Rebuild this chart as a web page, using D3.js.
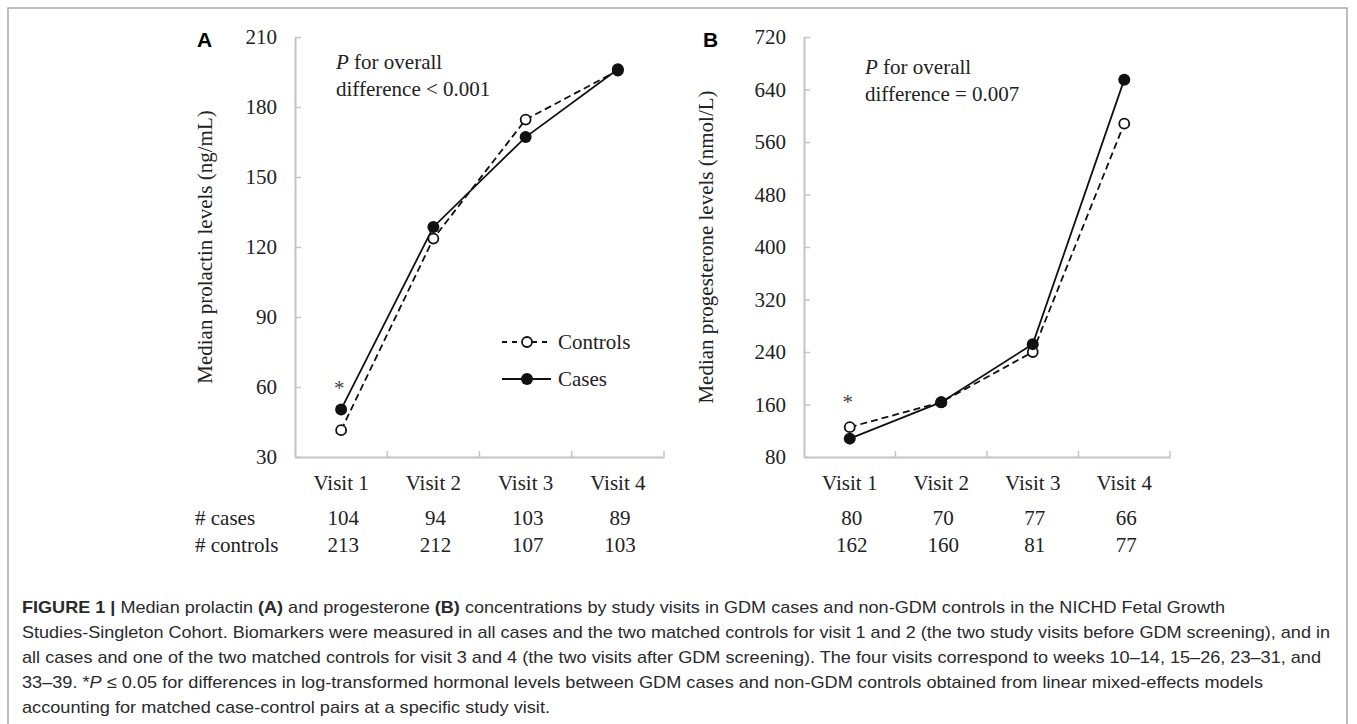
<!DOCTYPE html>
<html>
<head>
<meta charset="utf-8">
<script src="https://cdn.jsdelivr.net/npm/d3@7"></script>
<style>
  body { margin: 0; background: #fff; }
  svg { display: block; }
  .serif { font-family: "Liberation Serif", "Times New Roman", serif; fill: #222; }
</style>
</head>
<body>
<svg width="1357" height="724"></svg>
<script>
// ---- data ----
const visits = ["Visit 1", "Visit 2", "Visit 3", "Visit 4"];

const prolactinControls = [41.5, 123.6, 174.6, 195.6];
const prolactinCases = [50.4, 128.6, 167.1, 196.2];
const prolactinTicks = [30, 60, 90, 120, 150, 180, 210];
const prolactinNCases = [104, 94, 103, 89];
const prolactinNControls = [213, 212, 107, 103];

const progControls = [125.5, 163.5, 240, 588];
const progCases = [108, 163.5, 252, 655];
const progTicks = [80, 160, 240, 320, 400, 480, 560, 640, 720];
const progNCases = [80, 70, 77, 66];
const progNControls = [162, 160, 81, 77];

const captionLines = [
  [{t: "FIGURE 1 | ", b: true}, {t: "Median prolactin "}, {t: "(A)", b: true}, {t: " and progesterone "}, {t: "(B)", b: true},
   {t: " concentrations by study visits in GDM cases and non-GDM controls in the NICHD Fetal Growth"}],
  [{t: "Studies-Singleton Cohort. Biomarkers were measured in all cases and the two matched controls for visit 1 and 2 (the two study visits before GDM screening), and in"}],
  [{t: "all cases and one of the two matched controls for visit 3 and 4 (the two visits after GDM screening). The four visits correspond to weeks 10\u201314, 15\u201326, 23\u201331, and"}],
  [{t: "33\u201339. *"}, {t: "P", i: true}, {t: " \u2264 0.05 for differences in log-transformed hormonal levels between GDM cases and non-GDM controls obtained from linear mixed-effects models"}],
  [{t: "accounting for matched case-control pairs at a specific study visit."}]
];
const captionWidths = [1203, 1308, 1299, 1241, 528];

const svg = d3.select("svg");
const fs = "21px";

// outer frame
svg.append("rect")
    .attr("x", 8).attr("y", 8)
    .attr("width", 1339).attr("height", 740)
    .attr("fill", "none")
    .attr("stroke", "#a8a8a8")
    .attr("stroke-width", 1.5);

const plotTop = 37, plotBottom = 457;

function drawPanel(opt) {
    const g = svg.append("g");
    const x = d3.scaleBand().domain(visits).range([opt.left, opt.right]);
    const y = d3.scaleLinear().domain(opt.domain).range([plotBottom, plotTop]);
    const cx = v => x(v) + x.bandwidth() / 2;

    // y axis, ticks pointing inward
    const yAxis = g.append("g")
        .attr("transform", `translate(${opt.left},0)`)
        .call(d3.axisLeft(y).tickValues(opt.ticks).tickSize(-6).tickSizeOuter(0).tickPadding(18));
    yAxis.select(".domain").attr("stroke", "#c4c4c4").attr("stroke-width", 2);
    yAxis.selectAll(".tick line").attr("stroke", "#c4c4c4").attr("stroke-width", 1.5);
    yAxis.selectAll(".tick text")
        .attr("class", "serif")
        .style("font-size", fs);

    // x axis, labels at band centres, ticks on band edges
    const xAxis = g.append("g")
        .attr("transform", `translate(0,${plotBottom})`)
        .call(d3.axisBottom(x).tickSize(0).tickPadding(18));
    xAxis.select(".domain").attr("stroke", "#c4c4c4").attr("stroke-width", 2);
    xAxis.selectAll(".tick text")
        .attr("class", "serif")
        .style("font-size", fs);
    xAxis.selectAll(".edge")
        .data(visits)
        .join("line")
        .attr("x1", d => x(d) + x.bandwidth())
        .attr("x2", d => x(d) + x.bandwidth())
        .attr("y1", 0).attr("y2", -6)
        .attr("stroke", "#c4c4c4").attr("stroke-width", 1.5);

    const line = d3.line().x((d, i) => cx(visits[i])).y(d => y(d));

    g.append("path")
        .datum(opt.controls)
        .attr("d", line)
        .attr("fill", "none")
        .attr("stroke", "#111")
        .attr("stroke-width", 1.8)
        .attr("stroke-dasharray", "7,4");

    g.append("path")
        .datum(opt.cases)
        .attr("d", line)
        .attr("fill", "none")
        .attr("stroke", "#111")
        .attr("stroke-width", 1.8);

    g.selectAll(".ctrl")
        .data(opt.controls)
        .join("circle")
        .attr("cx", (d, i) => cx(visits[i]))
        .attr("cy", d => y(d))
        .attr("r", 5)
        .attr("fill", "#fff")
        .attr("stroke", "#111")
        .attr("stroke-width", 1.8);

    g.selectAll(".case")
        .data(opt.cases)
        .join("circle")
        .attr("cx", (d, i) => cx(visits[i]))
        .attr("cy", d => y(d))
        .attr("r", 6)
        .attr("fill", "#111");

    // asterisk over visit 1
    g.append("text")
        .attr("class", "serif")
        .attr("x", cx(visits[0]) - 2)
        .attr("y", opt.starY)
        .attr("text-anchor", "middle")
        .style("font-size", fs)
        .style("fill", "#444")
        .text("*");

    // P value note
    const note = g.append("text")
        .attr("class", "serif")
        .style("font-size", fs);
    note.append("tspan").attr("x", opt.noteX).attr("y", opt.noteY)
        .style("font-style", "italic").text("P");
    note.append("tspan").text(" for overall");
    note.append("tspan").attr("x", opt.noteX).attr("y", opt.noteY + 27)
        .text(opt.noteText);

    // panel letter
    g.append("text")
        .attr("x", opt.letterX).attr("y", 47)
        .style("font-family", "'Liberation Sans', Arial, sans-serif")
        .style("font-weight", "bold")
        .style("font-size", "21px")
        .text(opt.letter);

    // y title
    g.append("text")
        .attr("class", "serif")
        .attr("transform", `translate(${opt.titleX},${(plotTop + plotBottom) / 2}) rotate(-90)`)
        .attr("text-anchor", "middle")
        .style("font-size", fs)
        .text(opt.title);

    // counts table
    const rows = [opt.nCases, opt.nControls];
    rows.forEach((vals, r) => {
        g.selectAll(".n" + r)
            .data(vals)
            .join("text")
            .attr("class", "serif")
            .attr("x", (d, i) => cx(visits[i]) + 2)
            .attr("y", 525 + r * 27)
            .attr("text-anchor", "middle")
            .style("font-size", fs)
            .text(d => d);
    });

    return {x, y, cx};
}

drawPanel({
    left: 295, right: 664, domain: [30, 210], ticks: prolactinTicks,
    controls: prolactinControls, cases: prolactinCases,
    nCases: prolactinNCases, nControls: prolactinNControls,
    starY: 395, noteX: 336, noteY: 69, noteText: "difference < 0.001",
    letter: "A", letterX: 197, titleX: 212,
    title: "Median prolactin levels (ng/mL)"
});

drawPanel({
    left: 804, right: 1170, domain: [80, 720], ticks: progTicks,
    controls: progControls, cases: progCases,
    nCases: progNCases, nControls: progNControls,
    starY: 409, noteX: 865, noteY: 74, noteText: "difference = 0.007",
    letter: "B", letterX: 703, titleX: 713,
    title: "Median progesterone levels (nmol/L)"
});

// row labels of the counts table
["# cases", "# controls"].forEach((t, r) => {
    svg.append("text")
        .attr("class", "serif")
        .attr("x", 195)
        .attr("y", 525 + r * 27)
        .style("font-size", fs)
        .text(t);
});

// legend (panel A)
const legend = svg.append("g");
const legendItems = [
    {label: "Controls", dash: "5,5", open: true, y: 342},
    {label: "Cases", dash: null, open: false, y: 379}
];
legendItems.forEach(d => {
    legend.append("line")
        .attr("x1", 502).attr("x2", 551)
        .attr("y1", d.y).attr("y2", d.y)
        .attr("stroke", "#111").attr("stroke-width", 1.8)
        .attr("stroke-dasharray", d.dash);
    legend.append("circle")
        .attr("cx", 527).attr("cy", d.y)
        .attr("r", d.open ? 5 : 6)
        .attr("fill", d.open ? "#fff" : "#111")
        .attr("stroke", "#111")
        .attr("stroke-width", d.open ? 1.8 : 0);
    legend.append("text")
        .attr("class", "serif")
        .attr("x", 558).attr("y", d.y + 7)
        .style("font-size", fs)
        .text(d.label);
});

// caption
captionLines.forEach((parts, i) => {
    const t = svg.append("text")
        .attr("x", 22)
        .attr("y", 613 + i * 25)
        .attr("textLength", captionWidths[i])
        .attr("lengthAdjust", "spacingAndGlyphs")
        .style("font-family", "'Liberation Sans', Arial, sans-serif")
        .style("font-size", "17px")
        .style("fill", "#2a2a2a");
    parts.forEach(p => {
        t.append("tspan")
            .style("font-weight", p.b ? "bold" : null)
            .style("font-style", p.i ? "italic" : null)
            .text(p.t);
    });
});
</script>
</body>
</html>
